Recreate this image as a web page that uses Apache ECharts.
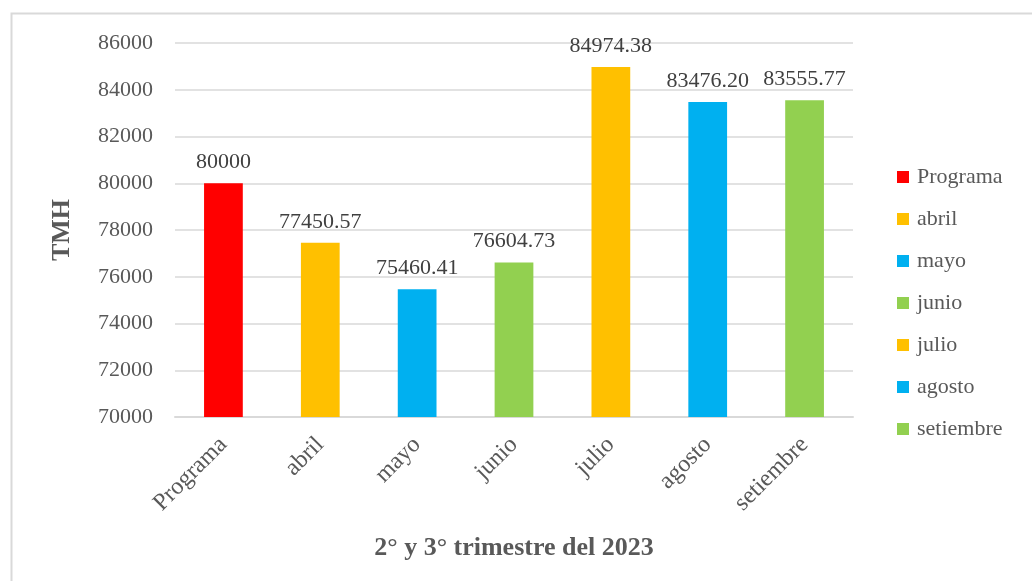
<!DOCTYPE html>
<html>
<head>
<meta charset="utf-8">
<script src="https://cdn.jsdelivr.net/npm/echarts@6/dist/echarts.min.js"></script>
<style>
  html, body { margin: 0; padding: 0; background: #fff; }
  #main { width: 1032px; height: 581px; }
</style>
</head>
<body>
<div id="main"></div>
<script>
// datos del gráfico
const categories = ['Programa', 'abril', 'mayo', 'junio', 'julio', 'agosto', 'setiembre']
const values = [80000, 77450.57, 75460.41, 76604.73, 84974.38, 83476.20, 83555.77]
const labels = ['80000', '77450.57', '75460.41', '76604.73', '84974.38', '83476.20', '83555.77']
const colors = ['#ff0000', '#ffc000', '#00b0f0', '#92d050', '#ffc000', '#00b0f0', '#92d050']
const yTicks = [70000, 72000, 74000, 76000, 78000, 80000, 82000, 84000, 86000]

const font = '"Liberation Serif", "DejaVu Serif", serif'

// una serie por categoría para que la leyenda muestre cada mes
const series = categories.map((name, i) => ({
  name: name,
  type: 'bar',
  stack: 'total',
  barWidth: '40%',
  itemStyle: { color: colors[i] },
  label: {
    show: true,
    position: 'top',
    distance: 10,
    fontFamily: font,
    fontSize: 22,
    color: '#404040',
    formatter: () => labels[i]
  },
  data: categories.map((c, j) => (j === i ? values[i] : null))
}))

const chart = echarts.init(document.getElementById('main'))
chart.setOption({
  animation: false,
  graphic: [{
    type: 'rect',
    shape: { x: 11.5, y: 13.5, width: 1040, height: 600 },
    style: { fill: 'none', stroke: '#d9d9d9', lineWidth: 2 },
    silent: true
  }],
  grid: { left: 175, right: 179, top: 43, bottom: 164 },
  legend: {
    orient: 'vertical',
    left: 892,
    top: 161,
    itemWidth: 12,
    itemHeight: 12,
    itemGap: 20,
    icon: 'rect',
    textStyle: { fontFamily: font, fontSize: 22, color: '#595959', padding: [0, 0, 0, 3] },
    data: categories
  },
  xAxis: {
    type: 'category',
    data: categories,
    name: '2° y 3° trimestre del 2023',
    nameLocation: 'middle',
    nameGap: 118,
    nameTextStyle: { fontFamily: font, fontSize: 26, fontWeight: 'bold', color: '#595959' },
    axisLine: { lineStyle: { color: '#d9d9d9', width: 2 } },
    axisTick: { show: false },
    axisLabel: {
      rotate: 45,
      margin: 24,
      fontFamily: font,
      fontSize: 24,
      color: '#595959'
    }
  },
  yAxis: {
    type: 'value',
    min: yTicks[0],
    max: yTicks[yTicks.length - 1],
    interval: 2000,
    name: 'TMH',
    nameLocation: 'middle',
    nameGap: 100,
    nameTextStyle: { fontFamily: font, fontSize: 26, fontWeight: 'bold', color: '#595959' },
    axisLine: { show: false },
    axisTick: { show: false },
    splitLine: { lineStyle: { color: '#d9d9d9', width: 1.5 } },
    axisLabel: {
      margin: 22,
      fontFamily: font,
      fontSize: 22,
      color: '#595959',
      formatter: v => String(v)
    }
  },
  series: series
})
</script>
</body>
</html>
